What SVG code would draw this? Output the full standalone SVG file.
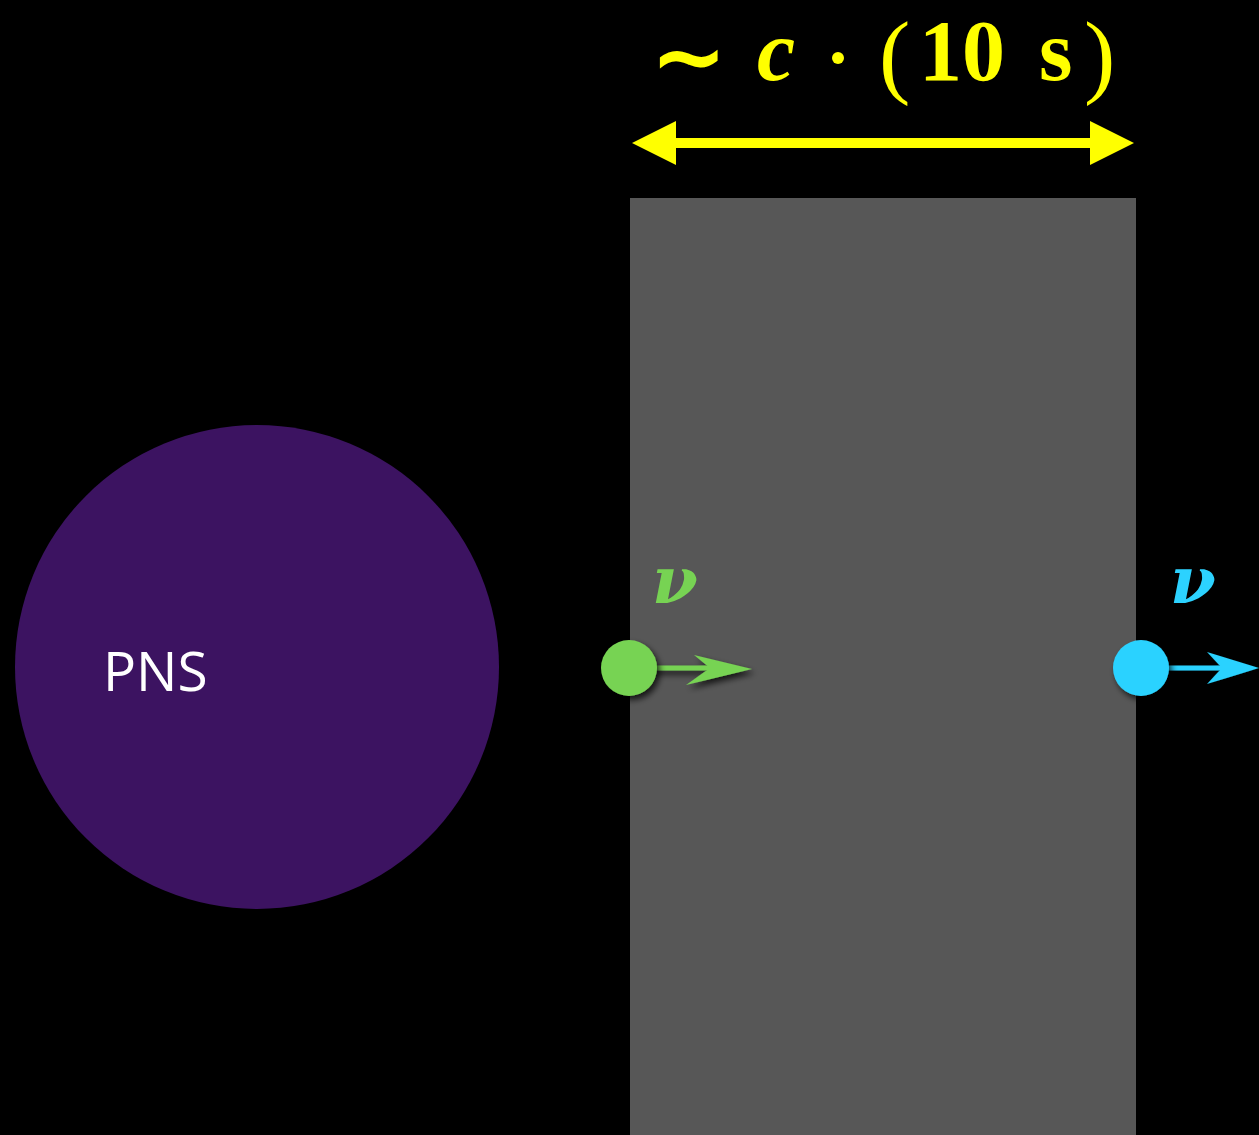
<svg xmlns="http://www.w3.org/2000/svg" width="1259" height="1135" viewBox="0 0 1259 1135">
  <style>
    .math { font-family: "Liberation Serif", "DejaVu Serif", serif; fill: #ffff00; }
    .bold { font-weight: bold; }
    .ital { font-style: italic; }
    .paren { font-size: 94px; font-weight: normal; }
    .tilde { font-family: "DejaVu Sans", sans-serif; font-size: 92px; font-weight: bold; fill: #ffff00; }
    .nu { font-family: "DejaVu Serif", "Liberation Serif", serif; font-style: italic; font-weight: bold; font-size: 66px; }
    .label { font-family: "Open Sans", "Liberation Sans", sans-serif; font-size: 55px; fill: #ffffff; }
  </style>
  <defs>
    <filter id="shadow" x="-30%" y="-30%" width="160%" height="160%">
      <feDropShadow dx="3" dy="4" stdDeviation="3" flood-color="#000000" flood-opacity="0.75"/>
    </filter>
    <marker id="yhead" viewBox="0 0 44 44" refX="0" refY="22" markerUnits="userSpaceOnUse" markerWidth="44" markerHeight="44" orient="auto-start-reverse">
      <path d="M0,0 L44,22 L0,44 Z" fill="#ffff00"/>
    </marker>
  </defs>

  <rect x="0" y="0" width="1259" height="1135" fill="#000000"/>

  <!-- slab region -->
  <g id="slab">
    <rect x="630" y="198" width="506" height="937" fill="#575757"/>
  </g>

  <!-- proto-neutron star -->
  <g id="pns">
    <circle cx="257" cy="667" r="242" fill="#3c1361"/>
    <text class="label" x="103" y="691">PNS</text>
  </g>

  <!-- width label: ~ c · (10 s) -->
  <g id="width-label">
    <text class="tilde" x="650" y="88">∼</text>
    <text class="math bold ital" x="757" y="80" font-size="86">c</text>
    <circle cx="838" cy="58" r="6" fill="#ffff00"/>
    <text class="math paren" x="879" y="86">(</text>
    <text class="math bold" x="919" y="80" font-size="86">10</text>
    <text class="math bold" x="1039" y="80" font-size="86">s</text>
    <text class="math paren" x="1084" y="86">)</text>
  </g>

  <!-- connectors -->
  <g id="connectors">
    <line x1="676" y1="143" x2="1090" y2="143" stroke="#ffff00" stroke-width="10" marker-start="url(#yhead)" marker-end="url(#yhead)"/>
    <g filter="url(#shadow)">
      <line x1="650" y1="668" x2="720" y2="668" stroke="#77d353" stroke-width="5"/>
      <path d="M752,669 L694,655 L710,668 L686,685 Z" fill="#77d353"/>
    </g>
    <g filter="url(#shadow)">
      <line x1="1160" y1="668" x2="1230" y2="668" stroke="#2cd2ff" stroke-width="5"/>
      <path d="M1259,668 L1207,652 L1222,668 L1207,684 Z" fill="#2cd2ff"/>
    </g>
  </g>

  <!-- neutrinos -->
  <g id="nu-inner">
    <circle cx="629" cy="668" r="28" fill="#77d353" filter="url(#shadow)"/>
    <text class="nu" x="652" y="603" fill="#77d353">ν</text>
  </g>
  <g id="nu-outer">
    <circle cx="1141" cy="668" r="28" fill="#2cd2ff" filter="url(#shadow)"/>
    <text class="nu" x="1170" y="603" fill="#2cd2ff">ν</text>
  </g>
</svg>
